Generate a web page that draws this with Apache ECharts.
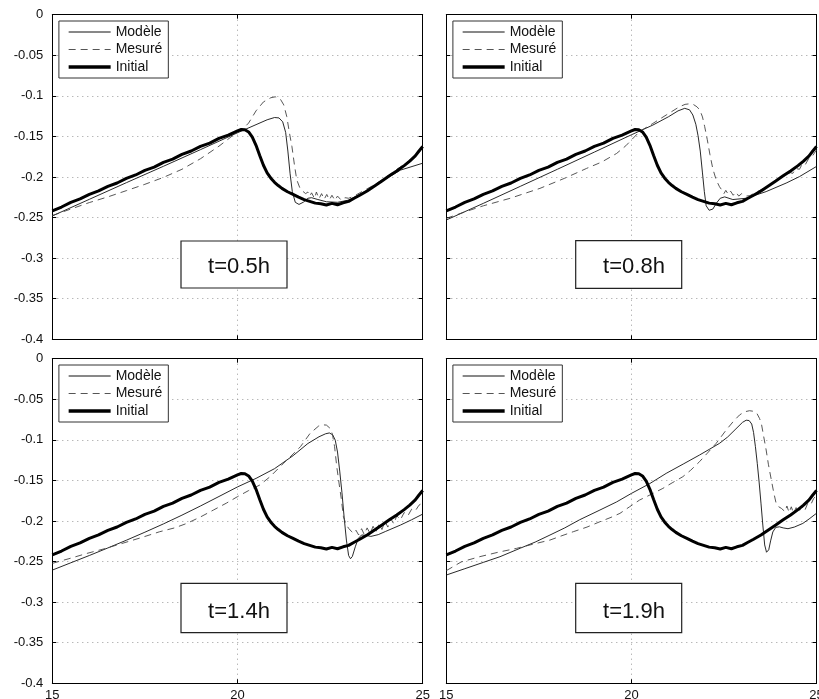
<!DOCTYPE html>
<html><head><meta charset="utf-8">
<script src="https://cdn.jsdelivr.net/npm/echarts@6/dist/echarts.min.js"></script>
<style>html,body{margin:0;padding:0;background:#fff}#c{width:819px;height:699px}</style>
</head><body><div id="c"></div>
<script>
// ---- data (x in mm-like units, y values) ----
const xTicks = [15, 20, 25];
const yTickStep = 0.05;
const seriesNames = ['Modèle', 'Mesuré', 'Initial'];
const panelLabels = ['t=0.5h', 't=0.8h', 't=1.4h', 't=1.9h'];

const initial = [[15.0,-0.2418],[15.25,-0.2370],[15.5,-0.2312],[15.75,-0.2270],[16.0,-0.2214],[16.25,-0.2172],[16.5,-0.2116],[16.75,-0.2074],[17.0,-0.2018],[17.25,-0.1975],[17.5,-0.1918],[17.75,-0.1878],[18.0,-0.1820],[18.25,-0.1779],[18.5,-0.1722],[18.75,-0.1680],[19.0,-0.1622],[19.25,-0.1582],[19.5,-0.1524],[19.75,-0.1484],[20.0,-0.1432],[20.1,-0.1415],[20.2,-0.1418],[20.3,-0.1445],[20.4,-0.1510],[20.5,-0.1610],[20.6,-0.1735],[20.7,-0.1855],[20.8,-0.1950],[20.9,-0.2015],[21.0,-0.2065],[21.1,-0.2105],[21.2,-0.2140],[21.35,-0.2182],[21.5,-0.2215],[21.65,-0.2248],[21.8,-0.2278],[21.95,-0.2300],[22.1,-0.2322],[22.25,-0.2330],[22.4,-0.2345],[22.55,-0.2325],[22.7,-0.2342],[22.85,-0.2318],[23.0,-0.2300],[23.15,-0.2262],[23.3,-0.2225],[23.5,-0.2172],[23.7,-0.2110],[23.9,-0.2048],[24.1,-0.1985],[24.3,-0.1925],[24.5,-0.1860],[24.65,-0.1805],[24.8,-0.1740],[24.9,-0.1680],[25.0,-0.1625]];

const model05 = [[15,-0.248],[16,-0.2275],[17,-0.207],[18,-0.1868],[19,-0.1663],[20,-0.1455],[20.5,-0.1355],[20.8,-0.1295],[21.0,-0.1267],[21.12,-0.1272],[21.22,-0.132],[21.3,-0.145],[21.36,-0.168],[21.42,-0.196],[21.48,-0.218],[21.56,-0.2312],[21.66,-0.2338],[21.78,-0.231],[21.9,-0.2262],[22.0,-0.2255],[22.15,-0.2275],[22.4,-0.2305],[22.7,-0.2312],[23.0,-0.2285],[23.5,-0.2165],[24.0,-0.2025],[24.4,-0.1915],[25,-0.183]];
const meas05 = [[15,-0.2475],[15.5,-0.2395],[16,-0.2315],[16.5,-0.2245],[17,-0.2168],[17.5,-0.209],[18,-0.2005],[18.5,-0.1905],[19,-0.1775],[19.5,-0.162],[20,-0.1445],[20.15,-0.1405],[20.3,-0.1335],[20.5,-0.1185],[20.7,-0.1075],[20.9,-0.1023],[21.02,-0.1012],[21.15,-0.1035],[21.25,-0.1112],[21.33,-0.1255],[21.4,-0.145],[21.47,-0.1627],[21.54,-0.186],[21.6,-0.2035],[21.68,-0.213],[21.76,-0.2175],[21.84,-0.2205],[21.9,-0.2185],[21.95,-0.2235],[22.0,-0.2195],[22.08,-0.2265],[22.13,-0.2185],[22.2,-0.2268],[22.27,-0.2205],[22.34,-0.2275],[22.41,-0.2215],[22.48,-0.2282],[22.55,-0.2225],[22.63,-0.2288],[22.7,-0.2235],[22.8,-0.2285],[22.9,-0.2255],[23.0,-0.2262],[23.15,-0.2235],[23.3,-0.2195],[23.5,-0.2145],[23.7,-0.2095],[23.9,-0.2035],[24.1,-0.1975],[24.3,-0.1905],[24.5,-0.1845],[24.7,-0.1775],[24.85,-0.1715],[25,-0.1655]];

const model08 = [[15,-0.253],[16,-0.2325],[17,-0.2115],[18,-0.1905],[19,-0.1693],[20,-0.148],[20.58,-0.136],[21.0,-0.1258],[21.26,-0.1185],[21.44,-0.1154],[21.57,-0.1172],[21.66,-0.1236],[21.74,-0.135],[21.8,-0.149],[21.86,-0.168],[21.92,-0.195],[21.97,-0.218],[22.02,-0.2355],[22.1,-0.241],[22.2,-0.2395],[22.3,-0.232],[22.4,-0.2262],[22.52,-0.2245],[22.74,-0.2278],[23.1,-0.2262],[23.64,-0.218],[24.18,-0.2075],[24.54,-0.1995],[25,-0.187]];
const meas08 = [[15,-0.251],[15.5,-0.243],[16,-0.2355],[16.72,-0.2263],[17.53,-0.214],[18.2,-0.2015],[18.79,-0.1894],[19.2,-0.1815],[19.6,-0.171],[19.85,-0.1615],[20.0,-0.1544],[20.22,-0.144],[20.58,-0.134],[20.94,-0.1236],[21.3,-0.1134],[21.45,-0.1105],[21.57,-0.1098],[21.68,-0.1108],[21.77,-0.1135],[21.85,-0.1175],[21.92,-0.126],[21.98,-0.138],[22.05,-0.154],[22.12,-0.172],[22.2,-0.19],[22.29,-0.2035],[22.38,-0.212],[22.45,-0.2165],[22.5,-0.2205],[22.55,-0.2165],[22.62,-0.2215],[22.68,-0.2175],[22.75,-0.2225],[22.82,-0.2185],[22.9,-0.2235],[22.98,-0.2205],[23.1,-0.2235],[23.2,-0.223],[23.4,-0.218],[23.64,-0.2125],[23.85,-0.2065],[24.1,-0.1995],[24.2,-0.1985],[24.28,-0.1945],[24.36,-0.1955],[24.44,-0.1895],[24.54,-0.1905],[24.62,-0.1835],[24.7,-0.1845],[24.8,-0.1765],[24.9,-0.1735],[25,-0.1665]];

const model14 = [[15,-0.2605],[15.5,-0.2515],[16,-0.2425],[16.5,-0.2332],[17,-0.2237],[17.5,-0.2138],[18,-0.2036],[18.5,-0.1928],[19,-0.1815],[19.5,-0.1698],[20,-0.1580],[20.5,-0.1475],[21,-0.1355],[21.5,-0.1195],[21.9,-0.1045],[22.2,-0.0962],[22.38,-0.0925],[22.48,-0.0915],[22.57,-0.0938],[22.64,-0.1005],[22.7,-0.115],[22.76,-0.1385],[22.82,-0.165],[22.88,-0.196],[22.94,-0.2235],[23.0,-0.2425],[23.05,-0.2465],[23.1,-0.2438],[23.18,-0.2318],[23.26,-0.2215],[23.35,-0.2172],[23.48,-0.2178],[23.6,-0.219],[23.8,-0.2168],[24.0,-0.2128],[24.4,-0.205],[24.7,-0.1985],[25,-0.1915]];
const meas14 = [[15,-0.2522],[15.5,-0.2458],[15.93,-0.240],[16.4,-0.2343],[16.83,-0.2284],[17.4,-0.2205],[17.9,-0.2132],[18.3,-0.2085],[18.63,-0.203],[19.0,-0.195],[19.35,-0.1865],[19.7,-0.178],[20,-0.170],[20.3,-0.1625],[20.6,-0.1557],[20.88,-0.1454],[21.24,-0.129],[21.5,-0.1175],[21.7,-0.1084],[21.96,-0.092],[22.19,-0.083],[22.3,-0.0815],[22.4,-0.0818],[22.5,-0.0858],[22.56,-0.0925],[22.62,-0.108],[22.68,-0.133],[22.74,-0.153],[22.8,-0.172],[22.86,-0.1947],[22.93,-0.204],[23.0,-0.209],[23.07,-0.2125],[23.13,-0.2155],[23.2,-0.2115],[23.27,-0.2172],[23.35,-0.2095],[23.42,-0.2165],[23.5,-0.2085],[23.58,-0.2155],[23.66,-0.2065],[23.74,-0.2135],[23.82,-0.2035],[23.9,-0.2105],[23.98,-0.2005],[24.06,-0.2075],[24.14,-0.1975],[24.22,-0.2035],[24.3,-0.1935],[24.4,-0.1985],[24.5,-0.1895],[24.6,-0.1935],[24.7,-0.1855],[24.8,-0.1875],[24.9,-0.1805],[25,-0.1775]];

const model19 = [[15,-0.2666],[15.5,-0.2588],[16,-0.251],[16.45,-0.244],[17,-0.2335],[17.4,-0.226],[17.8,-0.2173],[18.2,-0.2085],[18.6,-0.1985],[19.15,-0.1865],[19.6,-0.1765],[20,-0.166],[20.5,-0.1538],[20.94,-0.1413],[21.4,-0.1298],[21.84,-0.1187],[22.1,-0.1118],[22.38,-0.1043],[22.6,-0.0965],[22.8,-0.0875],[23.0,-0.0785],[23.1,-0.0758],[23.18,-0.0762],[23.25,-0.0805],[23.3,-0.091],[23.35,-0.1084],[23.4,-0.129],[23.45,-0.152],[23.5,-0.178],[23.55,-0.205],[23.6,-0.2295],[23.65,-0.2385],[23.71,-0.2355],[23.76,-0.2245],[23.82,-0.2135],[23.9,-0.2078],[24.0,-0.2072],[24.1,-0.2085],[24.23,-0.2095],[24.4,-0.2075],[24.63,-0.203],[24.8,-0.1975],[25,-0.1905]];
const meas19 = [[15,-0.2612],[15.4,-0.2505],[15.9,-0.244],[16.4,-0.2385],[16.9,-0.2337],[17.35,-0.2285],[17.8,-0.2235],[18.1,-0.2185],[18.43,-0.2132],[18.8,-0.2075],[19.15,-0.2009],[19.45,-0.1955],[19.69,-0.1906],[19.95,-0.1825],[20.22,-0.1742],[20.55,-0.1668],[20.85,-0.1598],[21.1,-0.153],[21.39,-0.1454],[21.6,-0.1375],[21.84,-0.1269],[22.05,-0.1165],[22.29,-0.1043],[22.56,-0.0879],[22.75,-0.0775],[22.92,-0.0694],[23.05,-0.0655],[23.19,-0.0641],[23.3,-0.0648],[23.39,-0.0674],[23.46,-0.0735],[23.51,-0.0797],[23.57,-0.095],[23.64,-0.1125],[23.7,-0.13],[23.78,-0.1495],[23.85,-0.166],[23.91,-0.1783],[23.98,-0.1825],[24.05,-0.1844],[24.1,-0.1835],[24.15,-0.1885],[24.2,-0.1815],[24.26,-0.1895],[24.32,-0.1825],[24.38,-0.1905],[24.45,-0.1835],[24.52,-0.1895],[24.6,-0.1815],[24.68,-0.1875],[24.76,-0.1785],[24.84,-0.1805],[24.92,-0.1725],[25,-0.168]];

const panelModels = [model05, model08, model14, model19];
const panelMeasures = [meas05, meas08, meas14, meas19];

// ---- layout ----
const FONT = "'Liberation Sans', Arial, Helvetica, sans-serif";
const grids = [
  {left: 52.3, top: 14.7, width: 370.4, height: 324.6},
  {left: 446.3, top: 14.7, width: 370.2, height: 324.6},
  {left: 52.3, top: 358.7, width: 370.4, height: 324.6},
  {left: 446.3, top: 358.7, width: 370.2, height: 324.6}
];
const boxes = [
  {x: 181, y: 241, w: 106, h: 47, tx: 239, ty: 266.5},
  {x: 575.7, y: 240.7, w: 106, h: 47.6, tx: 634, ty: 266.5},
  {x: 181, y: 583.3, w: 106, h: 49.3, tx: 239, ty: 611.5},
  {x: 575.7, y: 583.3, w: 106, h: 49.3, tx: 634, ty: 611.5}
];
const NOSYM = 'rgba(0,0,0,0)';
const lineStyles = [
  {color: '#111', width: 0.9},
  {color: '#444', width: 0.9, type: [7, 5]},
  {color: '#000', width: 3}
];
const legendLineStyles = [
  {color: '#111', width: 1},
  {color: '#555', width: 1, type: [7, 5]},
  {color: '#000', width: 3.5}
];

const xAxes = [], yAxes = [], series = [], legends = [], graphics = [];
grids.forEach((g, i) => {
  const bottomRow = i >= 2, leftCol = (i % 2 === 0);
  const common = {
    type: 'value', gridIndex: i,
    axisLine: {show: true, onZero: false, lineStyle: {color: '#000', width: 1}},
    axisTick: {show: true, inside: true, length: 4, lineStyle: {color: '#000', width: 1}}
  };
  xAxes.push(Object.assign({}, common, {
    position: 'bottom', min: xTicks[0], max: xTicks[xTicks.length - 1], interval: 5,
    axisLabel: {show: bottomRow, margin: 6, fontSize: 13, color: '#111', fontFamily: FONT},
    splitLine: {show: true, lineStyle: {color: '#9a9a9a', width: 1, type: [1, 4]}}
  }));
  xAxes.push(Object.assign({}, common, {
    position: 'top', min: xTicks[0], max: xTicks[xTicks.length - 1], interval: 5,
    axisLabel: {show: false}, splitLine: {show: false}
  }));
  yAxes.push(Object.assign({}, common, {
    position: 'left', min: -0.4, max: 0, interval: yTickStep,
    axisLabel: {show: leftCol, margin: 9, fontSize: 13, color: '#111', fontFamily: FONT},
    splitLine: {show: true, lineStyle: {color: '#9a9a9a', width: 1, type: [1, 4]}}
  }));
  yAxes.push(Object.assign({}, common, {
    position: 'right', min: -0.4, max: 0, interval: yTickStep,
    axisLabel: {show: false}, splitLine: {show: false}
  }));
  const xi = 2 * i, yi = 2 * i;
  const datas = [panelModels[i], panelMeasures[i], initial];
  seriesNames.forEach((name, k) => {
    series.push({name: name, type: 'line', xAxisIndex: xi, yAxisIndex: yi,
      data: datas[k], showSymbol: false, symbol: 'none',
      lineStyle: lineStyles[k], itemStyle: {color: NOSYM, borderWidth: 0}, z: k === 2 ? 4 : 3});
  });
  legends.push({
    orient: 'vertical', left: g.left + 6.6, top: g.top + 6.3,
    data: seriesNames.map((n, k) => ({name: n, lineStyle: legendLineStyles[k]})),
    itemWidth: 42, itemHeight: 14, itemGap: 3.5,
    padding: [4, 6, 4, 8], borderColor: '#333', borderWidth: 1, backgroundColor: '#fff',
    itemStyle: {color: NOSYM, borderWidth: 0, opacity: 0},
    selectedMode: false, textStyle: {fontSize: 14, color: '#111', fontFamily: FONT}
  });
  const b = boxes[i];
  graphics.push({type: 'rect', shape: {x: b.x, y: b.y, width: b.w, height: b.h},
    style: {fill: '#fff', stroke: '#222', lineWidth: 1.2}, z: 100});
  graphics.push({type: 'text', x: b.tx, y: b.ty, z: 101,
    style: {text: panelLabels[i], fontSize: 22, fontFamily: FONT, fill: '#111',
      textAlign: 'center', textVerticalAlign: 'middle', verticalAlign: 'middle', align: 'center'}});
});

const chart = echarts.init(document.getElementById('c'), null, {renderer: 'canvas'});
chart.setOption({
  animation: false,
  backgroundColor: '#fff',
  grid: grids.map(g => Object.assign({}, g, {containLabel: false, outerBoundsMode: 'none'})),
  xAxis: xAxes, yAxis: yAxes, series: series, legend: legends,
  graphic: {elements: graphics}
});
</script></body></html>
